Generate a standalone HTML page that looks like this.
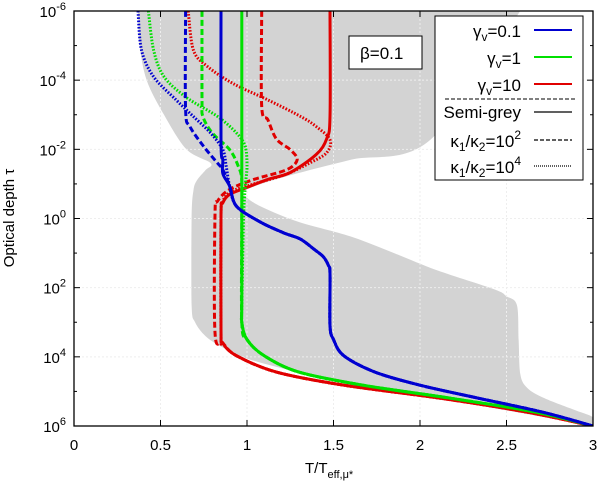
<!DOCTYPE html>
<html><head><meta charset="utf-8"><style>
html,body{margin:0;padding:0;background:#fff;}
svg{display:block;font-family:"Liberation Sans",sans-serif;}
</style></head><body>
<svg id="chart" width="600" height="484" viewBox="0 0 600 484">
<defs><clipPath id="pc"><rect x="74" y="11" width="519" height="415"/></clipPath></defs>
<g id="shade" clip-path="url(#pc)"></g>
<g id="grid"></g>
<g id="series" clip-path="url(#pc)"></g>
<g id="axes"></g>
<text x="14" y="218" transform="rotate(-90 14 218)" text-anchor="middle" font-size="15">Optical depth τ</text>
<text x="305" y="473" font-size="15">T/T<tspan dy="5" font-size="11">eff,μ*</tspan></text>
<g>
<rect x="349" y="36" width="73" height="33" fill="#fff" stroke="#000" stroke-width="1"/>
<text x="360" y="59" font-size="17">β=0.1</text>
</g>
<g>
<rect x="435" y="16" width="148" height="164" fill="#fff" stroke="#000" stroke-width="1"/>
<text x="521" y="37" text-anchor="end" font-size="17">γ<tspan dy="4" font-size="12">v</tspan><tspan dy="-4">=0.1</tspan></text>
<line x1="534" x2="572" y1="30" y2="30" stroke="#0000d0" stroke-width="2"/>
<text x="521" y="64" text-anchor="end" font-size="17">γ<tspan dy="4" font-size="12">v</tspan><tspan dy="-4">=1</tspan></text>
<line x1="534" x2="572" y1="57" y2="57" stroke="#00e000" stroke-width="2"/>
<text x="521" y="91" text-anchor="end" font-size="17">γ<tspan dy="4" font-size="12">v</tspan><tspan dy="-4">=10</tspan></text>
<line x1="534" x2="572" y1="84" y2="84" stroke="#e00000" stroke-width="2"/>
<line x1="445" x2="575" y1="99" y2="99" stroke="#000" stroke-width="1" stroke-dasharray="4 2"/>
<text x="521" y="118" text-anchor="end" font-size="17">Semi-grey</text>
<line x1="534" x2="572" y1="112" y2="112" stroke="#000" stroke-width="1.3"/>
<text x="521" y="147" text-anchor="end" font-size="17">κ<tspan dy="4" font-size="12">1</tspan><tspan dy="-4">/κ</tspan><tspan dy="4" font-size="12">2</tspan><tspan dy="-4">=10</tspan><tspan dy="-8" font-size="12">2</tspan></text>
<line x1="534" x2="572" y1="140" y2="140" stroke="#000" stroke-width="1.3" stroke-dasharray="4 2"/>
<text x="521" y="173" text-anchor="end" font-size="17">κ<tspan dy="4" font-size="12">1</tspan><tspan dy="-4">/κ</tspan><tspan dy="4" font-size="12">2</tspan><tspan dy="-4">=10</tspan><tspan dy="-8" font-size="12">4</tspan></text>
<line x1="534" x2="572" y1="166" y2="166" stroke="#000" stroke-width="1.3" stroke-dasharray="1 1"/>
</g>
</svg>
<script>
// ---- data arrays: [T, log10(tau)] ----
const xTicks = [0, 0.5, 1, 1.5, 2, 2.5, 3];
const xTickLabels = ["0", "0.5", "1", "1.5", "2", "2.5", "3"];
const yTicks = [-6, -4, -2, 0, 2, 4, 6];
const yTickLabels = ["-6", "-4", "-2", "0", "2", "4", "6"];
const yMinorTicks = [-5, -3, -1, 1, 3, 5];
const shadeLeft = [[0.37,-6],[0.38,-5],[0.42,-4],[0.52,-3],[0.65,-2],[0.79,-1.6],[0.76,-1.4],[0.71,-1.1],[0.69,-0.8],[0.68,0],[0.68,2.5],[0.70,3.0],[0.76,3.4],[0.85,3.7],[1.0,4.05],[1.3,4.45],[1.6,4.75],[2.0,5.1],[2.5,5.55],[3.0,6]];
const shadeRight = [[3,6],[3,5.75],[2.9,5.55],[2.72,5.2],[2.62,4.9],[2.58,4.5],[2.57,3.5],[2.56,2.5],[2.5,2.25],[2.43,2.05],[2.1,1.5],[1.85,1.0],[1.6,0.52],[1.3,0.1],[1.1,-0.3],[1.0,-0.6],[1.0,-0.84],[1.25,-1.25],[1.6,-1.7],[2.06,-2.28],[2.58,-6]];
const blueLower = [[0.86,-1.3],[0.90,-0.93],[0.94,-0.35],[1.08,0.11],[1.21,0.41],[1.31,0.6],[1.39,0.9],[1.44,1.1],[1.47,1.35],[1.48,1.6],[1.48,3.1],[1.50,3.5],[1.56,3.97],[1.74,4.44],[2.0,4.82],[2.34,5.2],[2.71,5.6],[3.0,6]];
const blueSemi = [[0.85,-6],[0.85,-2.2],[0.86,-1.7]].concat(blueLower);
const blueK2 = [[0.645,-6],[0.645,-3.15],[0.67,-2.66],[0.75,-2.08],[0.83,-1.6],[0.86,-1.41]].concat(blueLower.slice(1));
const blueK4 = [[0.37,-6],[0.39,-4.87],[0.46,-4.1],[0.59,-3.43],[0.69,-2.95],[0.79,-2.47],[0.86,-1.99],[0.88,-1.51]].concat(blueLower.slice(1));
const greenLower = [[0.97,3.0],[1.0,3.5],[1.10,3.97],[1.30,4.44],[1.67,4.82],[2.18,5.2],[2.67,5.6],[3.0,6]];
const greenSemi = [[0.97,-6],[0.97,0],[0.97,2.5]].concat(greenLower);
const greenK2 = [[0.74,-6],[0.74,-3.43],[0.745,-2.95],[0.80,-2.47],[0.90,-1.99],[0.95,-1.51],[0.97,-1.1],[0.97,0]].concat(greenLower);
const greenK4 = [[0.43,-6],[0.46,-4.87],[0.52,-4.1],[0.65,-3.5],[0.83,-2.95],[0.94,-2.47],[0.99,-2.08],[1.0,-1.5],[0.99,-0.93],[0.98,0],[0.97,2.5]].concat(greenLower);
const redLower = [[0.86,3.6],[0.94,3.97],[1.17,4.44],[1.56,4.82],[2.12,5.2],[2.62,5.6],[3.0,6]];
const redSemi = [[1.48,-6],[1.48,-2.95],[1.46,-2.3],[1.40,-1.85],[1.25,-1.33],[1.12,-1.13],[1.0,-0.9],[0.90,-0.7],[0.86,-0.45],[0.85,-0.1],[0.85,3.2]].concat(redLower);
const redK2 = [[1.085,-6],[1.085,-3.24],[1.12,-2.86],[1.17,-2.3],[1.25,-1.99],[1.29,-1.7],[1.23,-1.41],[1.04,-1.13],[0.90,-0.84],[0.83,-0.5],[0.815,-0.1],[0.815,3.3]].concat(redLower);
const redK4 = [[0.66,-6],[0.69,-4.87],[0.77,-4.4],[0.92,-3.9],[1.12,-3.43],[1.31,-2.95],[1.40,-2.66],[1.48,-2.28],[1.46,-1.9],[1.36,-1.6],[1.22,-1.27],[1.04,-1.0],[0.91,-0.78],[0.86,-0.5],[0.85,-0.1],[0.85,3.3]].concat(redLower);

const L=74,R=593,T=11,B=426;
const X=v=>L+(v-0)/3*(R-L);
const Y=l=>T+(l+6)/12*(B-T);
const NS="http://www.w3.org/2000/svg";
function mk(tag,attrs,parent,text){const e=document.createElementNS(NS,tag);for(const k in attrs)e.setAttribute(k,attrs[k]);if(text!==undefined)e.textContent=text;parent.appendChild(e);return e;}
function smooth(a,cont){
  const p=a.map(q=>[X(q[0]),Y(q[1])]);const n=p.length;
  let d=(cont?"L":"M")+p[0][0].toFixed(1)+","+p[0][1].toFixed(1);
  for(let i=0;i<n-1;i++){
    const p0=p[i>0?i-1:0],p1=p[i],p2=p[i+1],p3=p[i+2<n?i+2:n-1];
    const t=0.16;
    const c1=[p1[0]+(p2[0]-p0[0])*t,p1[1]+(p2[1]-p0[1])*t];
    const c2=[p2[0]-(p3[0]-p1[0])*t,p2[1]-(p3[1]-p1[1])*t];
    d+=" C"+c1.map(v=>v.toFixed(1)).join(",")+" "+c2.map(v=>v.toFixed(1)).join(",")+" "+p2[0].toFixed(1)+","+p2[1].toFixed(1);
  }
  return d;
}

const shadeG=document.getElementById('shade');
const poly=mk('path',{d:smooth(shadeLeft,false)+" "+smooth(shadeRight,true)+" Z",fill:'#d3d3d3'},shadeG);



const gridG=document.getElementById('grid');
xTicks.slice(1,-1).forEach(v=>{const g=mk('line',{x1:X(v),x2:X(v),y1:T,y2:B,stroke:'#eee','stroke-width':1,'stroke-dasharray':'2 2'},gridG);

});
yTicks.slice(1,-1).forEach(v=>{const g=mk('line',{x1:L,x2:R,y1:Y(v),y2:Y(v),stroke:'#eee','stroke-width':1,'stroke-dasharray':'2 2'},gridG);

});

const series=[
 [redK4,'#e00000','1.6 1.6','red-kappa-1e4-line'],[redK2,'#e00000','6 3','red-kappa-1e2-line'],[redSemi,'#e00000',null,'red-semi-grey-line'],
 [greenK4,'#00e000','1.6 1.6','green-kappa-1e4-line'],[greenK2,'#00e000','6 3','green-kappa-1e2-line'],[greenSemi,'#00e000',null,'green-semi-grey-line'],
 [blueK4,'#0000d0','1.6 1.6','blue-kappa-1e4-line'],[blueK2,'#0000d0','6 3','blue-kappa-1e2-line'],[blueSemi,'#0000d0',null,'blue-semi-grey-line']];
const sG=document.getElementById('series');
series.forEach(s=>{const a={d:smooth(s[0],false),fill:'none',stroke:s[1],'stroke-width':3,'stroke-linejoin':'round'};if(s[2])a['stroke-dasharray']=s[2];
const e=mk('path',a,sG);

});

const aG=document.getElementById('axes');
const frame=mk('rect',{x:L,y:T,width:R-L,height:B-T,fill:'none',stroke:'#000','stroke-width':1.3},aG);


xTicks.forEach((v,i)=>{mk('line',{x1:X(v),x2:X(v),y1:B,y2:B-6,stroke:'#000'},aG);mk('line',{x1:X(v),x2:X(v),y1:T,y2:T+6,stroke:'#000'},aG);
const t=mk('text',{x:X(v),y:450,'text-anchor':'middle','font-size':15},aG,xTickLabels[i]);

});
yTicks.forEach((v,i)=>{mk('line',{x1:L,x2:L+6,y1:Y(v),y2:Y(v),stroke:'#000'},aG);mk('line',{x1:R,x2:R-6,y1:Y(v),y2:Y(v),stroke:'#000'},aG);
const t=mk('text',{x:66,y:Y(v)+6,'text-anchor':'end','font-size':15},aG);


mk('tspan',{},t,'10');mk('tspan',{dy:-7,'font-size':11},t,yTickLabels[i]);});
yMinorTicks.forEach(v=>{mk('line',{x1:L,x2:L+3,y1:Y(v),y2:Y(v),stroke:'#000'},aG);mk('line',{x1:R,x2:R-3,y1:Y(v),y2:Y(v),stroke:'#000'},aG);});
</script>
</body></html>
